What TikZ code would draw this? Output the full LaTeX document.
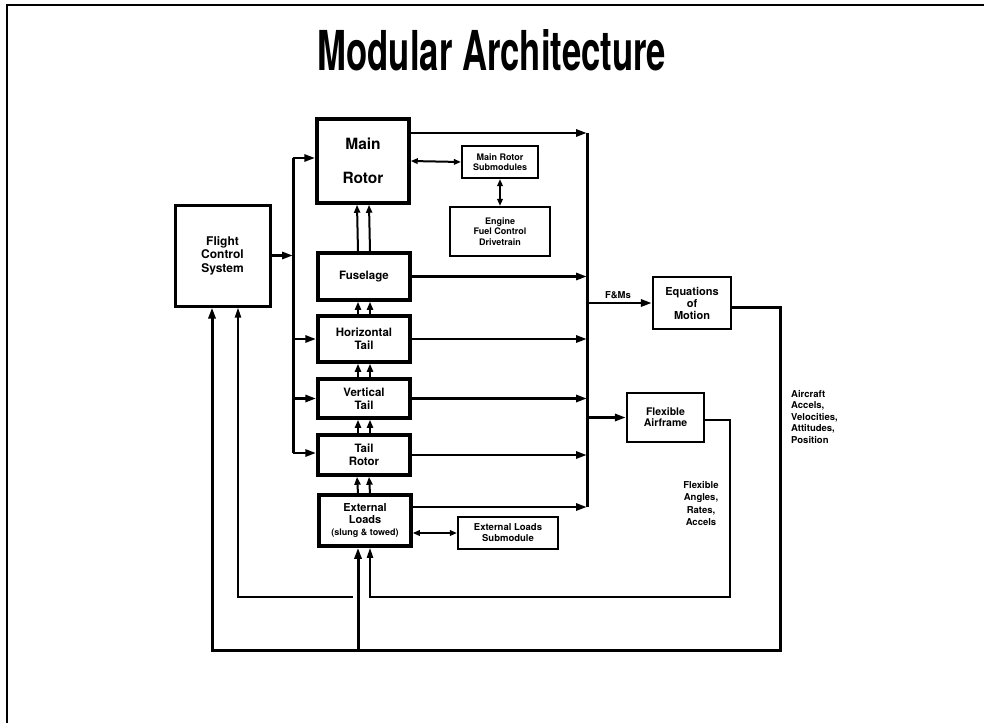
\documentclass[tikz,border=0pt]{standalone}
\usepackage{fontspec}
\setmainfont{TeX Gyre Heros}
\usetikzlibrary{arrows.meta}

\begin{document}
\begin{tikzpicture}[x=1pt,y=-1pt,
  every node/.style={font=\bfseries, inner sep=0pt, align=center},
  blk/.style={draw, line width=3.5pt, minimum width=92pt, font=\bfseries\fontsize{11.5}{13}\selectfont},
  subblk/.style={draw, line width=2.2pt, font=\bfseries\fontsize{9}{10.5}\selectfont},
  bus/.style={line width=3pt},
  link/.style={line width=2.8pt, -{Triangle[length=11pt,width=7pt]}},
  thinlink/.style={line width=2pt, -{Triangle[length=10pt,width=6pt]}},
  up/.style={line width=2pt, -{Triangle[length=8pt,width=6pt]}},
  dbl/.style={line width=2pt, {Triangle[length=7pt,width=5.5pt]}-{Triangle[length=7pt,width=5.5pt]}},
  lbl/.style={font=\bfseries\fontsize{9.5}{11.5}\selectfont}]
\useasboundingbox (0,0) rectangle (984,723);
% slide frame
\draw[line width=2.5pt] (984,5) -- (6,5);
\draw[line width=1.2pt] (7,4) -- (7,723);
\node (title) at (492,50) {\fontsize{55}{60}\selectfont\scalebox{0.63}[1]{Modular Architecture}};

% modules
\node[blk, line width=3pt, minimum width=95pt, minimum height=101pt, font=\bfseries\fontsize{12}{13.5}\selectfont] (fcs) at (222.5,255.5) {Flight\\Control\\System};
\node[blk, minimum height=84pt, font=\bfseries\fontsize{15.5}{34}\selectfont] (mr) at (363,161) {Main\\Rotor};
\node[blk, minimum height=47pt] (fus) at (364,276.5) {Fuselage};
\node[blk, minimum height=46pt] (ht) at (364,339) {Horizontal\\Tail};
\node[blk, minimum height=39pt] (vt) at (364,398.5) {Vertical\\Tail};
\node[blk, minimum height=40pt] (tr) at (364,455) {Tail\\Rotor};
\node[blk, minimum height=51pt, font=\bfseries\fontsize{11}{12}\selectfont] (el) at (365,520.5) {External\\Loads\\{\fontsize{9}{11}\selectfont(slung \& towed)}};

% submodules and outputs
\node[subblk, minimum width=76pt, minimum height=32pt] (mrs) at (500,162) {Main Rotor\\Submodules};
\node[subblk, minimum width=100pt, minimum height=49pt] (eng) at (500,231.5) {Engine\\Fuel Control\\Drivetrain};
\node[subblk, minimum width=100pt, minimum height=32pt, font=\bfseries\fontsize{9.5}{11}\selectfont] (els) at (508,533) {External Loads\\Submodule};
\node[subblk, minimum width=78pt, minimum height=52pt, font=\bfseries\fontsize{11}{12}\selectfont] (eom) at (692,303) {Equations\\of\\Motion};
\node[subblk, minimum width=77pt, minimum height=49pt, font=\bfseries\fontsize{10.5}{11}\selectfont] (fa) at (665.5,417.5) {Flexible\\Airframe};

% labels
\node[lbl] (fm) at (618,295) {F\&Ms};
\node[lbl, align=left, anchor=north west] (acc) at (791,390) {Aircraft\\Accels,\\Velocities,\\Attitudes,\\Position};
\node[lbl, font=\bfseries\fontsize{9.5}{12.5}\selectfont, anchor=north] (flx) at (701,481) {Flexible\\Angles,\\Rates,\\Accels};

% input bus
\coordinate (lbt) at (293,158);
\coordinate (lbb) at (293,453);
\draw[bus] (lbt) -- (lbb);
\draw[link] (fcs.east) -- (fcs.east -| lbt);
\draw[link] (lbt) -- (lbt -| mr.west);
\draw[link] (ht.west -| lbt) -- (ht.west);
\draw[link] (vt.west -| lbt) -- (vt.west);
\draw[link] (lbb) -- (lbb -| tr.west);

% force bus
\coordinate (rbt) at (587,133);
\coordinate (rbb) at (587,507);
\draw[bus] (rbt) -- (rbb);
\draw[link] (rbt -| mr.east) -- (rbt);
\draw[link] (fus.east) -- (fus.east -| rbt);
\draw[link] (ht.east) -- (ht.east -| rbt);
\draw[link] (vt.east) -- (vt.east -| rbt);
\draw[link] (tr.east) -- (tr.east -| rbt);
\draw[link] (rbb -| el.east) -- (rbb);
\draw[link] (eom.west -| rbt) -- (eom.west);
\draw[link] (fa.west -| rbt) -- (fa.west);

% stack
\draw[up] ([xshift=-6pt]fus.north) -- ([xshift=-6pt]mr.south);
\draw[up] ([xshift=6pt]fus.north) -- ([xshift=6pt]mr.south);
\draw[up] ([xshift=-6pt]ht.north) -- ([xshift=-6pt]fus.south);
\draw[up] ([xshift=6pt]ht.north) -- ([xshift=6pt]fus.south);
\draw[up] ([xshift=-6pt]vt.north) -- ([xshift=-6pt]ht.south);
\draw[up] ([xshift=6pt]vt.north) -- ([xshift=6pt]ht.south);
\draw[up] ([xshift=-6pt]tr.north) -- ([xshift=-6pt]vt.south);
\draw[up] ([xshift=6pt]tr.north) -- ([xshift=6pt]vt.south);
\draw[up] ([xshift=-7pt]el.north) -- ([xshift=-7pt]tr.south);
\draw[up] ([xshift=5pt]el.north) -- ([xshift=5pt]tr.south);

\draw[dbl] (mr.east) -- (mrs.west);
\draw[dbl] (mrs.south) -- (eng.north);
\draw[dbl] (els.west -| el.east) -- (els.west);

% feedback loops
\coordinate (eomc) at (780,650);
\coordinate (fcsc) at (212,650);
\coordinate (elc) at (358,650);
\draw[link, line width=3pt] ([yshift=-4pt]eom.east) -| (eomc) -- (fcsc) -- (fcs.south -| fcsc);
\draw[link, line width=3pt] (elc) -- (elc |- el.south);
\coordinate (fac) at (730,597);
\coordinate (flc) at (370,597);
\coordinate (fll) at (238,597);
\draw[thinlink] ([yshift=-2.5pt]fa.east) -| (fac) -- (flc) -- (flc |- el.south);
\draw[thinlink] ([xshift=-17pt]flc) -- (fll) -- (fll |- fcs.south);
\end{tikzpicture}
\end{document}
